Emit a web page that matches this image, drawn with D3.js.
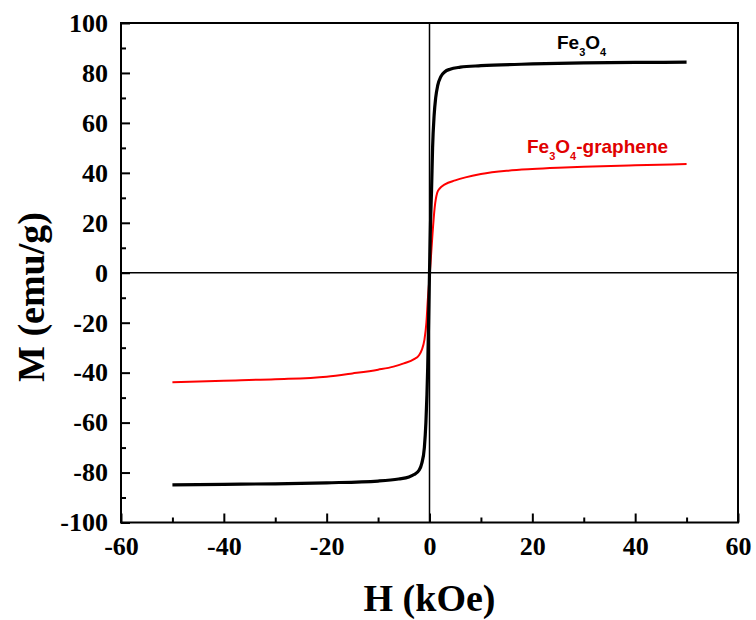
<!DOCTYPE html>
<html>
<head>
<meta charset="utf-8">
<script src="https://cdn.jsdelivr.net/npm/d3@7"></script>
<style>
body{margin:0;background:#fff}
</style>
</head>
<body>
<div id="chart"></div>
<script>
// field values (kOe) and magnetisation (emu/g)
var feH = [-50,-40,-30,-20,-10,-6,-4,-3,-2,-1.5,-1,-0.7,-0.5,-0.35,-0.2,0,0.2,0.4,0.6,0.9,1.2,1.6,2.2,3,4,6,10,20,30,40,50]
var feM = [-84.9,-84.7,-84.5,-84.1,-83.4,-82.6,-81.8,-80.8,-79,-76.3,-70,-60,-49,-38,-22,0,20,33,50,63,70,75,78.5,80.5,81.5,82.3,82.9,83.6,84,84.2,84.3]

var grH = [-50,-40,-30,-20,-15,-10,-7,-5,-3,-2,-1.5,-1,-0.6,-0.3,0,0.3,0.6,1,1.5,2,3,5,7,10,15,20,25,30,40,50]
var grM = [-43.8,-43.2,-42.6,-41.6,-40.3,-38.8,-37.6,-36.3,-34.6,-32.9,-30.9,-27,-20,-10,-2,7,16,26,32,33.8,35.4,37,38.2,39.5,40.8,41.5,42,42.4,43,43.5]

var xTicks = [-60,-40,-20,0,20,40,60]
var yTicks = [-100,-80,-60,-40,-20,0,20,40,60,80,100]

function drawChart(){
  var W = 756, Ht = 620
  var pl = 121, pr = 738, pt = 23, pb = 522.5

  var svg = d3.select("#chart").append("svg").attr("width",W).attr("height",Ht)
  svg.append("rect").attr("width",W).attr("height",Ht).attr("fill","#fff")

  var x = d3.scaleLinear().domain([-60,60]).range([pl,pr])
  var y = d3.scaleLinear().domain([-100,100]).range([pb,pt])

  var serif = "'Liberation Serif','Times New Roman',serif"
  var sans = "'Liberation Sans',Arial,sans-serif"

  // minor ticks
  var xMinor = d3.range(-50,60,20)
  var yMinor = d3.range(-90,100,20)

  svg.append("g").attr("transform","translate(0,"+pb+")")
    .call(d3.axisBottom(x).tickValues(xMinor).tickSize(-5).tickFormat(""))
    .call(function(g){g.select(".domain").remove()})
    .selectAll("line").attr("stroke-width",2)

  svg.append("g").attr("transform","translate("+pl+",0)")
    .call(d3.axisLeft(y).tickValues(yMinor).tickSize(-5).tickFormat(""))
    .call(function(g){g.select(".domain").remove()})
    .selectAll("line").attr("stroke-width",2)

  var xAxis = svg.append("g").attr("transform","translate(0,"+pb+")")
    .call(d3.axisBottom(x).tickValues(xTicks).tickSizeInner(-9).tickSizeOuter(0).tickPadding(14).tickFormat(function(d){return String(d)}))
  xAxis.select(".domain").remove()
  xAxis.selectAll("line").attr("stroke-width",2)
  xAxis.selectAll("text").attr("font-family",serif).attr("font-weight","bold").attr("font-size","26px").attr("fill","#000")

  var yAxis = svg.append("g").attr("transform","translate("+pl+",0)")
    .call(d3.axisLeft(y).tickValues(yTicks).tickSizeInner(-9).tickSizeOuter(0).tickPadding(13).tickFormat(function(d){return String(d)}))
  yAxis.select(".domain").remove()
  yAxis.selectAll("line").attr("stroke-width",2)
  yAxis.selectAll("text").attr("font-family",serif).attr("font-weight","bold").attr("font-size","26px").attr("fill","#000")

  // zero lines
  svg.append("line").attr("x1",x(0)).attr("x2",x(0)).attr("y1",pt).attr("y2",pb).attr("stroke","#000").attr("stroke-width",1.5)
  svg.append("line").attr("x1",pl).attr("x2",pr).attr("y1",y(0)).attr("y2",y(0)).attr("stroke","#000").attr("stroke-width",1.5)

  // frame
  svg.append("rect").attr("x",pl).attr("y",pt).attr("width",pr-pl).attr("height",pb-pt)
    .attr("fill","none").attr("stroke","#000").attr("stroke-width",2)

  var line = d3.line().x(function(d){return x(d[0])}).y(function(d){return y(d[1])}).curve(d3.curveMonotoneX)

  svg.append("path").datum(d3.zip(grH,grM)).attr("d",line)
    .attr("fill","none").attr("stroke","#ff0000").attr("stroke-width",2)
  svg.append("path").datum(d3.zip(feH,feM)).attr("d",line)
    .attr("fill","none").attr("stroke","#000").attr("stroke-width",3.2)

  // series labels
  function label(tx,ty,color,parts){
    var t = svg.append("text").attr("x",tx).attr("y",ty).attr("fill",color)
      .attr("font-family",sans).attr("font-weight","bold").attr("font-size","19px")
    parts.forEach(function(p){
      if(p.sub){
        t.append("tspan").text(p.s).attr("font-size","11px").attr("dy",7)
      } else {
        t.append("tspan").text(p.s).attr("dy",p.back?-7:0)
      }
    })
  }
  label(557,49,"#000",[{s:"Fe"},{s:"3",sub:true},{s:"O",back:true},{s:"4",sub:true}])
  label(527,153,"#e00000",[{s:"Fe"},{s:"3",sub:true},{s:"O",back:true},{s:"4",sub:true},{s:"-graphene",back:true}])

  // axis titles
  svg.append("text").text("H (kOe)").attr("x",(pl+pr)/2).attr("y",611)
    .attr("text-anchor","middle").attr("font-family",serif).attr("font-weight","bold").attr("font-size","38px")
  svg.append("text").text("M (emu/g)").attr("transform","translate(44,297) rotate(-90)")
    .attr("text-anchor","middle").attr("font-family",serif).attr("font-weight","bold").attr("font-size","38px")
}
drawChart()
</script>
</body>
</html>
